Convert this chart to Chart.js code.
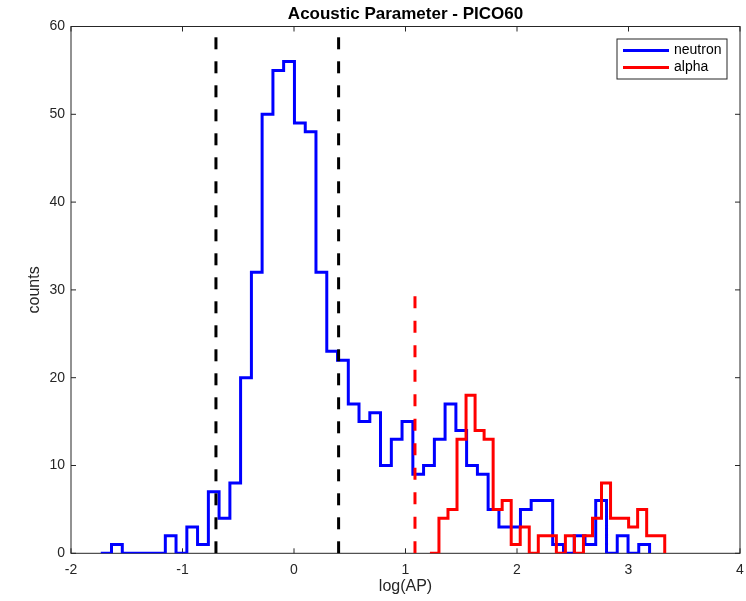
<!DOCTYPE html>
<html>
<head>
<meta charset="utf-8">
<script src="https://cdn.jsdelivr.net/npm/chart.js@4.4.0/dist/chart.umd.min.js"></script>
<style>
html,body{margin:0;padding:0;background:#ffffff;}
#wrap{width:746px;height:601px;position:relative;}
</style>
</head>
<body>
<div id="wrap"><canvas id="c" width="746" height="601"></canvas></div>
<script>
// ---- data ----
const titleText = 'Acoustic Parameter - PICO60';
const xLabel = 'log(AP)';
const yLabel = 'counts';
const seriesNames = ['neutron', 'alpha'];

const neutronEdges = [-1.733,-1.637,-1.540,-1.444,-1.347,-1.251,-1.154,-1.058,-0.961,-0.865,
  -0.768,-0.672,-0.575,-0.479,-0.382,-0.286,-0.189,-0.093,0.004,0.101,
  0.197,0.294,0.390,0.487,0.583,0.680,0.776,0.873,0.969,1.066,
  1.162,1.259,1.355,1.452,1.548,1.645,1.741,1.838,1.934,2.031,
  2.127,2.224,2.320,2.417,2.513,2.610,2.706,2.803,2.899,2.996,
  3.092,3.189];
const neutronCounts = [0,1,0,0,0,0,2,0,3,1,
  7,4,8,20,32,50,55,56,49,48,
  32,23,22,17,15,16,10,13,15,9,
  10,13,17,14,10,9,5,3,3,5,
  6,6,1,0,2,1,6,0,2,0,
  1];

const alphaEdges = [1.219,1.300,1.381,1.462,1.543,1.624,1.705,1.786,1.867,1.948,
  2.029,2.110,2.191,2.272,2.353,2.434,2.515,2.596,2.677,2.758,
  2.839,2.920,3.001,3.082,3.163,3.244,3.325];
const alphaCounts = [0,4,5,13,18,14,13,5,6,1,
  3,0,2,2,0,2,0,2,4,8,
  4,4,3,5,2,2];

const neutronCuts = [-0.7, 0.4];   // black dashed lines
const alphaCut = 1.085;            // red dashed line
const cutTopNeutron = 60;
const cutTopAlpha = 30;

const xTicks = [-2,-1,0,1,2,3,4];
const yTicks = [0,10,20,30,40,50,60];

// ---- helpers ----
const FONT = '"Liberation Sans", Arial, Helvetica, sans-serif';
const TXT = '#262626';

function stairs(edges, counts){
  const pts = [{x: edges[0], y: 0}];
  counts.forEach((c, i) => pts.push({x: edges[i], y: c}));
  pts.push({x: edges[edges.length - 1], y: 0});
  return pts;
}

const frameTicks = {
  id: 'frameTicks',
  beforeDatasetsDraw(chart){
    const {ctx, chartArea: a, scales: {x, y}} = chart;
    ctx.save();
    ctx.strokeStyle = TXT;
    ctx.lineWidth = 1;
    ctx.strokeRect(a.left, a.top, a.right - a.left, a.bottom - a.top);
    const L = 5;
    ctx.beginPath();
    xTicks.forEach(v => {
      const px = x.getPixelForValue(v);
      ctx.moveTo(px, a.bottom); ctx.lineTo(px, a.bottom - L);
      ctx.moveTo(px, a.top); ctx.lineTo(px, a.top + L);
    });
    yTicks.forEach(v => {
      const py = y.getPixelForValue(v);
      ctx.moveTo(a.left, py); ctx.lineTo(a.left + L, py);
      ctx.moveTo(a.right, py); ctx.lineTo(a.right - L, py);
    });
    ctx.stroke();
    ctx.restore();
  }
};

const titleLegend = {
  id: 'titleLegend',
  afterDraw(chart){
    const {ctx, chartArea: a} = chart;
    ctx.save();
    // title
    ctx.fillStyle = '#000';
    ctx.font = 'bold 17px ' + FONT;
    ctx.textAlign = 'center';
    ctx.textBaseline = 'middle';
    ctx.fillText(titleText, (a.left + a.right) / 2, 14);
    // legend box
    const bw = 110, bh = 40;
    const bx = a.right - 13 - bw, by = a.top + 12.5;
    ctx.fillStyle = '#fff';
    ctx.fillRect(bx, by, bw, bh);
    ctx.strokeStyle = TXT;
    ctx.lineWidth = 1;
    ctx.strokeRect(bx, by, bw, bh);
    const colors = ['#0000ff', '#ff0000'];
    seriesNames.forEach((name, i) => {
      const yy = by + 11.5 + i * 17;
      ctx.strokeStyle = colors[i];
      ctx.lineWidth = 3;
      ctx.beginPath();
      ctx.moveTo(bx + 6, yy); ctx.lineTo(bx + 52, yy);
      ctx.stroke();
      ctx.fillStyle = '#000';
      ctx.font = '14px ' + FONT;
      ctx.textAlign = 'left';
      ctx.textBaseline = 'middle';
      ctx.fillText(name, bx + 57, yy);
    });
    ctx.restore();
  }
};

const datasets = [];
neutronCuts.forEach(v => datasets.push({
  data: [{x: v, y: 0}, {x: v, y: cutTopNeutron}],
  borderColor: '#000000', borderWidth: 3, borderDash: [12, 12],
  pointRadius: 0, fill: false, order: 1
}));
datasets.push({
  data: [{x: alphaCut, y: 0}, {x: alphaCut, y: cutTopAlpha}],
  borderColor: '#ff0000', borderWidth: 3, borderDash: [12, 12.5],
  pointRadius: 0, fill: false, order: 2
});
datasets.push({
  label: seriesNames[1],
  data: stairs(alphaEdges, alphaCounts),
  borderColor: '#ff0000', borderWidth: 3, stepped: 'before',
  pointRadius: 0, fill: false, order: 3, borderJoinStyle: 'miter'
});
datasets.push({
  label: seriesNames[0],
  data: stairs(neutronEdges, neutronCounts),
  borderColor: '#0000ff', borderWidth: 3, stepped: 'before',
  pointRadius: 0, fill: false, order: 4, borderJoinStyle: 'miter'
});

new Chart(document.getElementById('c'), {
  type: 'line',
  data: {datasets},
  options: {
    responsive: false,
    animation: false,
    devicePixelRatio: 1,
    layout: {padding: {left: 20, right: 6, top: 26.5, bottom: 0}},
    plugins: {legend: {display: false}, title: {display: false}, tooltip: {enabled: false}},
    scales: {
      x: {
        type: 'linear', min: -2, max: 4,
        afterBuildTicks: s => { s.ticks = xTicks.map(v => ({value: v})); },
        ticks: {color: TXT, font: {family: FONT, size: 14}, padding: 8, maxRotation: 0, autoSkip: false},
        grid: {display: false, drawTicks: false},
        border: {display: false},
        title: {display: true, text: xLabel, color: TXT, font: {family: FONT, size: 16}, padding: {top: 0, bottom: 5}},
        afterFit: s => { s.height = 47.7; s.paddingLeft = 0; s.paddingRight = 0; }
      },
      y: {
        type: 'linear', min: 0, max: 60,
        afterBuildTicks: s => { s.ticks = yTicks.map(v => ({value: v})); },
        ticks: {color: TXT, font: {family: FONT, size: 14}, padding: 6, autoSkip: false},
        grid: {display: false, drawTicks: false},
        border: {display: false},
        title: {display: true, text: yLabel, color: TXT, font: {family: FONT, size: 16}, padding: {top: 5.2, bottom: 0}},
        afterFit: s => { s.width = 51; s.paddingTop = 0; s.paddingBottom = 0; }
      }
    }
  },
  plugins: [frameTicks, titleLegend]
});
</script>
</body>
</html>
